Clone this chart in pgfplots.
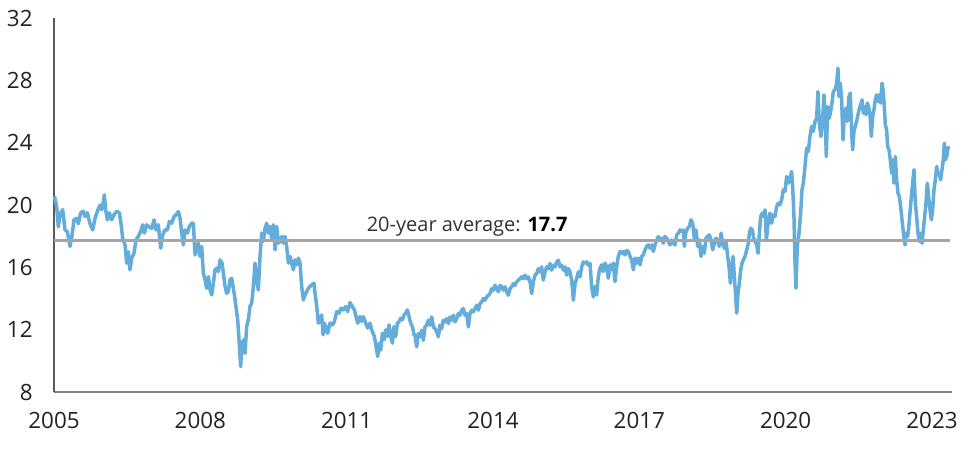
\documentclass[border=0pt]{standalone}
\usepackage{pgfplots}
\pgfplotsset{compat=1.18}
\usepackage{fontspec}
\setmainfont{Open Sans}
\definecolor{serblue}{RGB}{100,172,218}
\definecolor{avggray}{RGB}{165,165,165}
\definecolor{txt}{RGB}{34,34,34}
\begin{document}
\begin{tikzpicture}
\path[use as bounding box] (-27pt,-30pt) rectangle (463pt,196pt);
\begin{axis}[
  scale only axis, width=449pt, height=187pt,
  xmin=2005, xmax=2023.41, ymin=8, ymax=32,
  axis x line*=bottom, axis y line*=left,
  x axis line style={-, draw={rgb,255:red,130;green,130;blue,130}, line width=0.9pt},
  y axis line style={-, draw={rgb,255:red,90;green,90;blue,90}, line width=0.6pt},
  major tick length=0pt,
  xtick={2005,2008,2011,2014,2017,2020,2023},
  ytick={8,12,16,20,24,28,32},
  xticklabels={2005,2008,2011,2014,2017,2020,2023},
  /pgf/number format/assume math mode=true,
  tick label style={font=\fontsize{11.2}{13}\selectfont, text=txt, inner sep=0pt},
  yticklabel style={anchor=east, xshift=-10.5pt},
  xticklabel style={anchor=north, yshift=-10pt},
  clip=false,
]
\addplot[serblue, line width=1.75pt, line join=round] table {
2005.01 20.55
2005.055 19.9
2005.089 18.6
2005.123 19.4
2005.178 19.7
2005.226 18.4
2005.273 18.3
2005.328 17.34
2005.362 17.87
2005.41 19.05
2005.465 19.15
2005.499 18.8
2005.547 19.5
2005.601 19.6
2005.636 19.26
2005.684 19.5
2005.738 18.8
2005.793 18.4
2005.841 19.15
2005.889 19.6
2005.943 20.0
2005.977 19.7
2006.012 20.2
2006.032 20.65
2006.059 19.7
2006.094 19.05
2006.135 19.5
2006.182 19.05
2006.230 19.37
2006.285 19.6
2006.340 19.5
2006.374 18.8
2006.408 17.87
2006.456 17.44
2006.490 16.27
2006.524 17.0
2006.558 15.84
2006.593 16.6
2006.640 16.9
2006.681 17.76
2006.729 17.98
2006.777 18.3
2006.818 18.73
2006.852 18.2
2006.900 18.73
2006.948 18.6
2007.003 18.5
2007.051 19.05
2007.092 18.4
2007.139 18.73
2007.187 17.23
2007.228 18.08
2007.276 18.4
2007.324 18.4
2007.365 18.94
2007.413 18.83
2007.461 19.26
2007.502 19.37
2007.550 19.58
2007.584 19.15
2007.618 18.2
2007.652 17.44
2007.686 18.4
2007.734 18.2
2007.775 18.62
2007.823 18.83
2007.857 18.83
2007.891 16.8
2007.925 17.12
2007.960 17.55
2007.994 16.7
2008.028 17.34
2008.062 15.63
2008.096 15.2
2008.131 14.66
2008.165 15.41
2008.199 14.56
2008.233 14.23
2008.267 14.98
2008.301 15.84
2008.336 15.95
2008.370 15.73
2008.404 16.48
2008.445 16.27
2008.472 15.63
2008.507 14.77
2008.541 14.34
2008.575 14.45
2008.609 15.2
2008.643 15.3
2008.70 14.2
2008.766 12.63
2008.793 11.35
2008.827 9.63
2008.848 10.92
2008.882 11.35
2008.916 10.49
2008.950 12.2
2008.984 12.63
2009.019 13.5
2009.053 13.7
2009.087 14.77
2009.121 16.27
2009.155 15.2
2009.189 14.55
2009.224 16.7
2009.258 18.2
2009.292 17.66
2009.326 18.5
2009.360 18.83
2009.394 18.2
2009.429 18.62
2009.463 17.87
2009.497 18.73
2009.531 17.12
2009.565 18.62
2009.600 17.55
2009.634 17.66
2009.668 17.98
2009.702 17.55
2009.736 17.98
2009.770 17.34
2009.805 16.27
2009.839 16.7
2009.873 16.27
2009.907 15.84
2009.941 16.48
2009.975 16.16
2010.010 16.59
2010.044 16.27
2010.078 14.77
2010.112 13.91
2010.146 14.23
2010.181 14.45
2010.215 14.66
2010.283 14.88
2010.331 14.98
2010.351 14.34
2010.386 13.5
2010.420 12.42
2010.454 12.63
2010.488 12.95
2010.516 11.67
2010.543 12.42
2010.570 12.2
2010.611 11.77
2010.659 12.42
2010.707 12.31
2010.748 12.52
2010.796 13.16
2010.844 13.06
2010.885 13.38
2010.933 13.27
2010.980 13.48
2011.021 13.16
2011.069 13.74
2011.117 13.48
2011.158 13.27
2011.192 12.84
2011.226 12.42
2011.274 12.84
2011.308 12.52
2011.343 12.84
2011.390 12.42
2011.431 12.1
2011.479 12.42
2011.513 11.99
2011.568 11.56
2011.602 10.92
2011.636 10.28
2011.671 11.13
2011.698 10.7
2011.732 11.77
2011.766 11.35
2011.800 11.99
2011.835 11.56
2011.869 12.31
2011.903 11.56
2011.937 11.13
2011.971 12.2
2012.005 11.56
2012.040 12.42
2012.074 12.52
2012.108 12.74
2012.142 12.63
2012.177 12.95
2012.211 13.06
2012.245 13.27
2012.279 12.84
2012.313 12.42
2012.348 12.2
2012.382 11.67
2012.401 11.65
2012.435 10.9
2012.469 11.75
2012.504 11.54
2012.538 11.97
2012.572 11.32
2012.606 12.18
2012.640 12.29
2012.674 12.61
2012.709 12.29
2012.743 12.82
2012.777 12.18
2012.811 12.07
2012.845 11.86
2012.879 11.54
2012.914 12.29
2012.948 12.07
2012.982 12.61
2013.016 12.5
2013.050 12.71
2013.085 12.39
2013.119 12.82
2013.153 12.61
2013.187 12.93
2013.221 12.5
2013.255 12.71
2013.290 13.04
2013.324 12.93
2013.358 13.25
2013.392 13.36
2013.426 12.93
2013.460 13.04
2013.495 12.18
2013.529 13.04
2013.563 13.25
2013.597 13.14
2013.631 13.36
2013.665 13.57
2013.700 13.25
2013.734 13.68
2013.768 13.78
2013.802 14.0
2013.836 13.89
2013.870 14.1
2013.905 14.21
2013.939 14.32
2013.973 14.64
2014.007 14.53
2014.041 14.85
2014.076 14.64
2014.110 14.43
2014.144 14.85
2014.178 14.75
2014.212 14.53
2014.246 14.75
2014.281 14.43
2014.315 14.21
2014.349 14.64
2014.383 14.75
2014.417 14.96
2014.451 14.85
2014.486 15.07
2014.520 15.18
2014.554 15.28
2014.588 15.39
2014.622 15.28
2014.657 15.5
2014.691 15.28
2014.725 15.39
2014.759 15.07
2014.793 14.32
2014.827 15.07
2014.862 15.5
2014.896 15.6
2014.930 15.92
2014.964 15.71
2014.998 16.03
2015.032 15.18
2015.067 15.71
2015.101 16.03
2015.135 15.92
2015.169 16.25
2015.203 15.82
2015.237 16.14
2015.272 16.03
2015.306 16.35
2015.340 16.46
2015.374 16.03
2015.408 16.14
2015.443 15.82
2015.477 16.03
2015.511 15.5
2015.545 15.92
2015.579 15.71
2015.613 15.18
2015.648 13.89
2015.682 14.96
2015.716 15.28
2015.750 15.71
2015.784 15.39
2015.818 16.03
2015.853 16.35
2015.887 16.25
2015.921 16.35
2015.955 16.14
2015.989 16.25
2016.023 14.75
2016.058 14.1
2016.091 14.77
2016.125 14.23
2016.159 15.41
2016.194 15.95
2016.228 16.16
2016.262 15.73
2016.296 16.27
2016.330 16.05
2016.364 15.3
2016.399 16.16
2016.433 15.84
2016.467 16.27
2016.501 15.09
2016.535 16.05
2016.569 16.7
2016.604 17.02
2016.638 16.91
2016.672 17.02
2016.706 16.8
2016.740 17.08
2016.775 17.02
2016.809 16.7
2016.843 16.48
2016.877 15.84
2016.911 16.59
2016.945 16.27
2016.980 16.59
2017.014 16.16
2017.048 16.7
2017.082 16.8
2017.116 17.12
2017.150 17.34
2017.185 17.44
2017.219 17.23
2017.253 17.44
2017.287 17.02
2017.321 17.44
2017.355 17.76
2017.390 17.98
2017.424 17.76
2017.458 17.87
2017.492 17.55
2017.526 17.98
2017.560 17.87
2017.595 17.66
2017.629 17.44
2017.663 17.76
2017.697 17.55
2017.731 17.44
2017.766 18.08
2017.800 18.19
2017.834 18.4
2017.868 18.3
2017.902 18.4
2017.923 17.34
2017.950 18.19
2017.991 18.51
2018.025 18.62
2018.059 19.05
2018.094 18.83
2018.128 17.87
2018.162 18.4
2018.196 17.34
2018.230 17.76
2018.265 16.7
2018.299 17.34
2018.333 16.91
2018.367 17.87
2018.401 17.98
2018.435 18.08
2018.470 17.76
2018.504 17.12
2018.538 17.55
2018.572 17.87
2018.606 17.66
2018.640 17.34
2018.675 18.19
2018.709 17.55
2018.743 17.23
2018.777 17.66
2018.811 16.7
2018.839 16.05
2018.866 14.98
2018.893 16.05
2018.921 16.7
2018.948 15.41
2018.975 14.13
2018.996 13.06
2019.023 14.34
2019.051 14.98
2019.078 15.84
2019.105 16.27
2019.133 16.48
2019.167 16.7
2019.201 17.12
2019.235 17.55
2019.256 18.19
2019.283 18.51
2019.317 18.4
2019.344 17.87
2019.372 17.66
2019.406 17.44
2019.433 16.91
2019.461 18.19
2019.488 19.26
2019.522 19.48
2019.550 19.26
2019.577 19.69
2019.604 17.76
2019.632 18.62
2019.659 19.26
2019.678 19.48
2019.712 18.83
2019.746 19.37
2019.781 19.26
2019.815 19.9
2019.849 20.12
2019.883 20.01
2019.917 20.33
2019.951 20.97
2019.986 20.87
2020.020 21.83
2020.054 21.4
2020.088 21.72
2020.122 22.15
2020.143 21.19
2020.170 19.26
2020.191 16.48
2020.211 14.66
2020.238 17.34
2020.273 18.19
2020.307 19.48
2020.334 20.97
2020.362 21.4
2020.396 22.47
2020.430 23.65
2020.464 23.43
2020.498 24.4
2020.532 25.04
2020.567 24.72
2020.601 25.36
2020.635 25.57
2020.662 27.28
2020.690 25.25
2020.724 24.4
2020.758 25.47
2020.785 27.07
2020.813 25.47
2020.833 23.11
2020.860 26.32
2020.895 25.57
2020.922 26.0
2020.949 26.54
2020.977 27.28
2021.011 27.39
2021.045 27.82
2021.072 28.78
2021.093 26.96
2021.120 27.82
2021.148 26.75
2021.175 24.18
2021.202 25.79
2021.236 26.22
2021.264 25.36
2021.298 26.96
2021.325 27.18
2021.353 24.61
2021.373 23.54
2021.400 24.72
2021.435 25.15
2021.469 25.57
2021.503 26.11
2021.537 26.43
2021.565 26.75
2021.592 25.89
2021.619 26.32
2021.646 25.79
2021.674 26.54
2021.701 26.32
2021.729 25.79
2021.756 24.4
2021.783 25.68
2021.810 26.11
2021.838 26.75
2021.865 27.07
2021.892 26.64
2021.920 27.07
2021.947 26.54
2021.975 27.82
2022.002 27.28
2022.022 26.32
2022.043 25.15
2022.070 24.82
2022.091 23.75
2022.118 23.54
2022.145 22.9
2022.173 22.04
2022.200 22.9
2022.221 21.4
2022.248 23.11
2022.275 21.62
2022.303 20.76
2022.330 20.55
2022.357 19.9
2022.385 19.05
2022.412 18.3
2022.446 17.44
2022.474 18.19
2022.501 17.98
2022.528 18.73
2022.556 19.8
2022.583 20.76
2022.610 21.62
2022.631 22.26
2022.658 20.12
2022.685 19.26
2022.713 18.19
2022.740 17.66
2022.767 18.19
2022.795 17.55
2022.822 18.41
2022.849 19.26
2022.877 20.12
2022.904 21.4
2022.931 20.55
2022.959 19.69
2022.986 19.05
2023.013 19.69
2023.041 20.97
2023.068 21.62
2023.096 22.47
2023.123 22.04
2023.150 21.94
2023.178 21.62
2023.205 22.26
2023.232 22.9
2023.253 23.97
2023.273 22.9
2023.301 23.11
2023.328 23.65
2023.355 23.75
};
\addplot[avggray, line width=1.5pt] coordinates {(2005,17.7) (2023.37,17.7)};
\node[anchor=base, inner sep=0pt, text={rgb,255:red,50;green,50;blue,50}, font=\fontsize{10}{12}\selectfont]
  at (axis cs:2013.47,18.29) {20-year average: \textcolor{black}{\textbf{17.7}}};
\end{axis}
\end{tikzpicture}
\end{document}
